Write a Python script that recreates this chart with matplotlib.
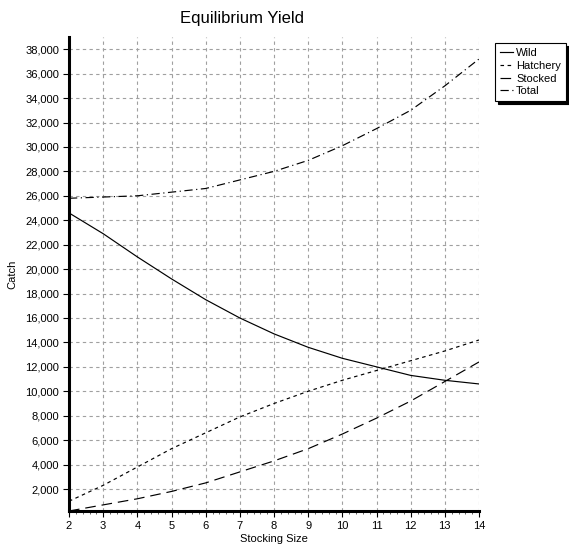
import numpy as np
import matplotlib.pyplot as plt
from matplotlib.ticker import FuncFormatter, MultipleLocator

plt.close("all")

# valeurs
stocking_size = [2, 3, 4, 5, 6, 7, 8, 9, 10, 11, 12, 13, 14]
wild = [24600, 22900, 21000, 19200, 17500, 16000, 14700, 13600, 12700, 12000, 11300, 10900, 10600]
hatchery = [1000, 2300, 3800, 5300, 6600, 7900, 9000, 10000, 10900, 11700, 12500, 13300, 14200]
stocked = [200, 700, 1200, 1800, 2500, 3400, 4300, 5300, 6500, 7800, 9200, 10800, 12400]
total = [25800, 25900, 26000, 26300, 26600, 27300, 28000, 28900, 30100, 31500, 33000, 35000, 37200]
y_ticks = list(range(2000, 38001, 2000))

plt.rcParams['font.family'] = ['Liberation Sans', 'DejaVu Sans']

fig = plt.figure(figsize=(5.69, 5.47), dpi=100)
axe = fig.add_axes([69/569, 1-511/547, 410/569, 474/547])

lw = 0.85
axe.plot(stocking_size, wild, color='black', lw=lw, label='Wild')
axe.plot(stocking_size, hatchery, color='black', lw=lw, linestyle=(0, (3, 3)), label='Hatchery')
axe.plot(stocking_size, stocked, color='black', lw=lw, linestyle=(0, (9, 5)), label='Stocked')
axe.plot(stocking_size, total, color='black', lw=lw, linestyle=(0, (7, 3, 1, 3)), label='Total')

axe.set_xlim(2, 14)
axe.set_ylim(200, 39000)
axe.set_xticks(range(2, 15))
axe.xaxis.set_minor_locator(MultipleLocator(0.2))
axe.set_yticks(y_ticks)
axe.yaxis.set_major_formatter(FuncFormatter(lambda v, p: '{:,.0f}'.format(v)))

axe.grid(True, which='major', color='#a0a0a0', linestyle=(0, (3, 3)), lw=0.8)
for s in ['top', 'right']:
    axe.spines[s].set_visible(False)
for s in ['left', 'bottom']:
    axe.spines[s].set_linewidth(2.2)
axe.tick_params(axis='both', which='major', labelsize=8, length=4, width=0.8, direction='out', pad=3)
axe.tick_params(axis='x', which='minor', length=2.5, width=0.7, color='#606060')

axe.set_xlabel('Stocking Size', fontsize=8, labelpad=2)
axe.set_ylabel('Catch', fontsize=8, labelpad=6)
fig.text(242/569, 1-19/547, 'Equilibrium Yield', ha='center', va='center', fontsize=12)

leg = axe.legend(loc='upper left', bbox_to_anchor=(495/569, 1-43/547),
                 bbox_transform=fig.transFigure, fontsize=8, frameon=True,
                 fancybox=False, shadow={'color': 'black', 'alpha': 1},
                 edgecolor='black', handlelength=1.15, handletextpad=0.3,
                 borderpad=0.45, labelspacing=0.25, borderaxespad=0)
leg.get_frame().set_linewidth(0.8)

fig.savefig('out.png', dpi=100)
